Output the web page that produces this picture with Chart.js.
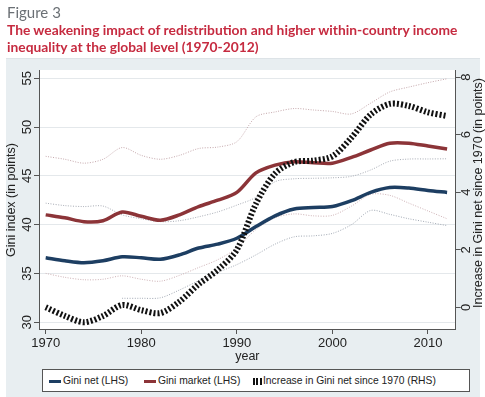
<!DOCTYPE html>
<html>
<head>
<meta charset="utf-8">
<script src="https://cdn.jsdelivr.net/npm/chart.js@4.4.0/dist/chart.umd.min.js"></script>
<style>
  body { margin: 0; width: 485px; height: 397px; background: #fff; position: relative; overflow: hidden; font-family: "Liberation Sans", Arial, sans-serif; }
  #chart { position: absolute; left: 0; top: 0; }
  #fig { position: absolute; left: 7px; top: 3px; font: 15px Lato, "Open Sans", sans-serif; color: #6b7075; z-index: 2; }
  #title { position: absolute; left: 7px; top: 21px; font: bold 13.8px Lato, "Open Sans", sans-serif; color: #c62b40; line-height: 17px; white-space: nowrap; z-index: 2; }
  #rule { position: absolute; left: 6px; top: 58px; width: 474px; height: 1px; background: #dde3e7; z-index: 2; }
  #legend { position: absolute; left: 42px; top: 369px; width: 426px; height: 21px; background: #fff; border: 1px solid #555; z-index: 2; font-size: 10.3px; color: #222; }
  #legend .it { position: absolute; top: 5px; white-space: nowrap; }
  #legend .sw { position: absolute; top: 10px; height: 3px; }
</style>
</head>
<body>
<div id="fig">Figure 3</div>
<div id="title">The weakening impact of redistribution and higher within-country income<br>inequality at the global level (1970-2012)</div>
<div id="rule"></div>
<canvas id="chart" width="485" height="397"></canvas>
<div id="legend">
  <div class="sw" style="left:6px;width:12px;background:#1d3e62"></div>
  <div class="it" style="left:20px">Gini net (LHS)</div>
  <div class="sw" style="left:101px;width:12px;background:#8c3438"></div>
  <div class="it" style="left:115px">Gini market (LHS)</div>
  <div class="sw" style="left:210px;top:8px;height:7px;width:9px;background:repeating-linear-gradient(90deg,#111 0 2px,transparent 2px 3.5px)"></div>
  <div class="it" style="left:220px">Increase in Gini net since 1970 (RHS)</div>
</div>
<script>
// ---- data ----
const years = [1970, 1972, 1974, 1976, 1978, 1980, 1982, 1984, 1986, 1988, 1990,
               1992, 1994, 1996, 1998, 2000, 2002, 2004, 2006, 2008, 2010, 2012];

const giniNet    = [36.6, 36.3, 36.1, 36.3, 36.7, 36.6, 36.45, 36.9, 37.6, 38.0, 38.6,
                    39.8, 40.9, 41.6, 41.75, 41.85, 42.45, 43.3, 43.8, 43.75, 43.5, 43.3];
const giniMarket = [41.0, 40.7, 40.3, 40.4, 41.3, 40.85, 40.45, 41.0, 41.85, 42.5, 43.3,
                    45.3, 46.1, 46.45, 46.35, 46.3, 46.9, 47.65, 48.35, 48.35, 48.05, 47.75];
const increase   = [0, -0.3, -0.52, -0.3, 0.08, -0.1, -0.2, 0.2, 0.8, 1.3, 2.0,
                    3.6, 4.65, 5.05, 5.1, 5.25, 5.9, 6.7, 7.07, 7.0, 6.78, 6.65];

// thin dotted bands
const marketHigh = [47.0, 46.7, 46.3, 46.7, 47.9, 47.1, 46.7, 47.1, 47.8, 47.95, 48.5,
                    51.05, 51.55, 51.9, 51.75, 51.6, 51.35, 52.45, 53.6, 54.1, 54.55, 54.95];
const marketLow  = [42.2, 41.95, 41.85, 41.9, 41.0, 40.6, 40.3, 40.4, 40.8, 41.3, 42.0,
                    42.8, 44.4, 44.7, 44.75, 44.8, 44.95, 45.6, 46.5, 46.72, 46.73, 46.75];
const netHigh    = [35.0, 34.6, 34.35, 34.4, 34.75, 34.4, 34.2, 34.8, 35.6, 36.4, 37.6,
                    39.5, 40.7, 41.1, 40.9, 40.95, 41.9, 43.1, 43.0, 42.2, 41.4, 40.6];
const netLow     = [null, null, null, null, 32.45, 32.45, 32.5, 33.3, 34.25, 35.1, 35.9,
                    36.9, 38.0, 38.75, 38.85, 39.1, 40.0, 41.45, 41.05, 40.6, 40.25, 39.9];

const xTicks = [1970, 1980, 1990, 2000, 2010];
const leftTicks = [30, 35, 40, 45, 50, 55];
const rightTicks = [0, 2, 4, 6, 8];

const pts = vals => years.map((y, i) => ({ x: y, y: vals[i] }));

function band(vals, color) {
  return {
    data: pts(vals), yAxisID: 'y', borderColor: color, borderWidth: 1,
    borderDash: [1, 1.5], pointRadius: 0, tension: 0.3, fill: false
  };
}

function vtext(ctx, txt, x, y) {
  ctx.save();
  ctx.translate(x, y);
  ctx.rotate(-Math.PI / 2);
  ctx.textAlign = 'center';
  ctx.textBaseline = 'middle';
  ctx.fillText(txt, 0, 0);
  ctx.restore();
}

const panelPlugin = {
  id: 'panel',
  beforeDraw(chart) {
    const ctx = chart.ctx, a = chart.chartArea;
    ctx.save();
    ctx.fillStyle = '#e8eef1';
    ctx.fillRect(6, 59, 474, 338);
    ctx.fillStyle = '#fff';
    ctx.fillRect(a.left, a.top, a.right - a.left, a.bottom - a.top);
    ctx.restore();
  },
  afterDraw(chart) {
    const ctx = chart.ctx, s = chart.scales;
    ctx.save();
    ctx.fillStyle = '#222';
    ctx.font = '13px "Liberation Sans", Arial, sans-serif';
    ctx.textAlign = 'center';
    ctx.textBaseline = 'middle';
    xTicks.forEach(v => ctx.fillText(String(v), s.x.getPixelForValue(v), 343));
    leftTicks.forEach(v => vtext(ctx, String(v), 27, s.y.getPixelForValue(v)));
    rightTicks.forEach(v => vtext(ctx, String(v), 466, s.y2.getPixelForValue(v)));
    ctx.font = '12.5px "Liberation Sans", Arial, sans-serif';
    ctx.fillText('year', (chart.chartArea.left + chart.chartArea.right) / 2, 357);
    vtext(ctx, 'Gini index (in points)', 12, 200);
    vtext(ctx, 'Increase in Gini net since 1970 (in points)', 479, 193);
    ctx.restore();
  }
};

new Chart(document.getElementById('chart'), {
  type: 'line',
  data: {
    datasets: [
      {
        label: 'Increase in Gini net since 1970 (RHS)', data: pts(increase), yAxisID: 'y2',
        borderColor: '#111', borderWidth: 6, borderDash: [2, 2], borderCapStyle: 'butt',
        pointRadius: 0, tension: 0.3
      },
      {
        label: 'Gini net (LHS)', data: pts(giniNet), yAxisID: 'y',
        borderColor: '#1d3e62', borderWidth: 3.5, pointRadius: 0, tension: 0.3
      },
      {
        label: 'Gini market (LHS)', data: pts(giniMarket), yAxisID: 'y',
        borderColor: '#8c3438', borderWidth: 3.5, pointRadius: 0, tension: 0.3
      },
      band(marketHigh, '#c6a9ad'),
      band(marketLow, '#a9adb6'),
      band(netHigh, '#cfb3b7'),
      band(netLow, '#a3aab5')
    ]
  },
  options: {
    responsive: false,
    animation: false,
    events: [],
    layout: { padding: { left: 34, right: 24.3, top: 70, bottom: 63 } },
    plugins: { legend: { display: false }, tooltip: { enabled: false } },
    scales: {
      x: {
        type: 'linear', min: 1969.3, max: 2012.9,
        afterBuildTicks: sc => { sc.ticks = xTicks.map(v => ({ value: v })); },
        ticks: { display: false },
        grid: { drawOnChartArea: false, drawTicks: true, tickLength: 5, tickColor: '#555' },
        border: { color: '#555' }
      },
      y: {
        position: 'left', min: 29.3, max: 55.85,
        afterBuildTicks: sc => { sc.ticks = leftTicks.map(v => ({ value: v })); },
        ticks: { display: false },
        grid: { color: '#e4e8eb', drawTicks: true, tickLength: 5, tickColor: '#555' },
        border: { color: '#555' }
      },
      y2: {
        position: 'right', min: -0.755, max: 8.25,
        afterBuildTicks: sc => { sc.ticks = rightTicks.map(v => ({ value: v })); },
        ticks: { display: false },
        grid: { drawOnChartArea: false, drawTicks: true, tickLength: 5, tickColor: '#555' },
        border: { color: '#555' }
      }
    }
  },
  plugins: [panelPlugin]
});
</script>
</body>
</html>
